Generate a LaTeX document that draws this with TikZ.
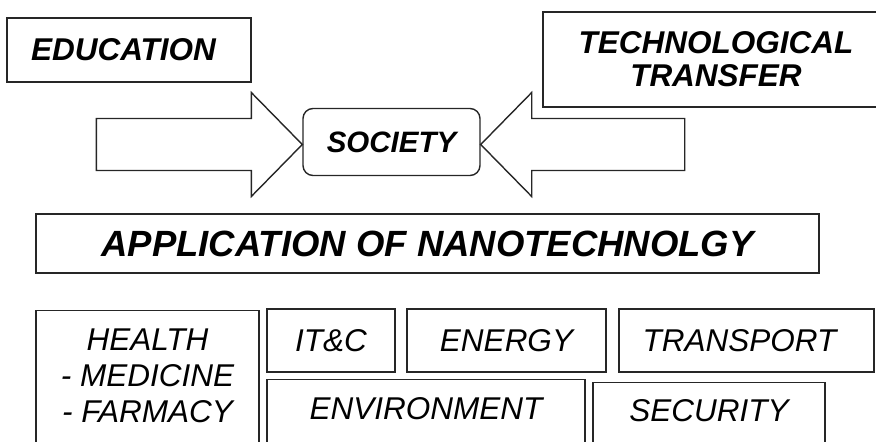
\documentclass[tikz,border=0pt]{standalone}
\usepackage{fontspec}
\setmainfont{Liberation Sans}
\begin{document}
\begin{tikzpicture}[x=1pt,y=-1pt,line width=1.4pt,
  box/.style={draw=black!85,inner sep=0pt,align=center},
  topbox/.style={box,font=\fontsize{31.5}{33}\selectfont\bfseries\itshape},
  cell/.style={box,font=\fontsize{31.5}{36}\selectfont\itshape},
  blockarrow/.style={draw=black!85,line join=miter}]
\useasboundingbox (0,0) rectangle (876,442);
\clip (0,0) rectangle (876,442);
\node[topbox,minimum width=244pt,minimum height=64pt] (education) at (129,50) {EDUCATION\hspace*{11pt}};
\node[topbox,minimum width=346pt,minimum height=95pt] (transfer) at (716,59.5) {TECHNOLOGICAL\\TRANSFER};
\node[topbox,rounded corners=10pt,minimum width=177pt,minimum height=67pt,
  font=\fontsize{29.5}{33}\selectfont\bfseries\itshape] (society) at (391.5,142) {SOCIETY};
\draw[blockarrow] ([yshift=-2.5pt]society.west) -- ++(-51,-52) -- ++(0,26) -- ++(-155,0)
  -- ++(0,52) -- ++(155,0) -- ++(0,26) -- cycle;
\draw[blockarrow] ([yshift=-2.5pt]society.east) -- ++(51,-52) -- ++(0,26) -- ++(153,0)
  -- ++(0,52) -- ++(-153,0) -- ++(0,26) -- cycle;
\node[topbox,minimum width=783pt,minimum height=59pt,
  font=\fontsize{36.5}{40}\selectfont\bfseries\itshape] (application) at (427.5,243.5) {APPLICATION OF NANOTECHNOLGY};
\node[cell,anchor=north,minimum width=223pt,inner ysep=18pt,text depth=70pt] (health) at (147.5,310) {HEALTH\\- MEDICINE\\- FARMACY};
\node[cell,minimum width=128pt,minimum height=63pt] (itc) at (331,340.5) {IT\&C};
\node[cell,minimum width=199pt,minimum height=63pt] (energy) at (506.5,340.5) {ENERGY};
\node[cell,minimum width=255pt,minimum height=63pt] (transport) at (746.5,340.5) {TRANSPORT\hspace*{14pt}};
\node[cell,anchor=north,minimum width=318pt,inner ysep=17.5pt,text depth=60pt] (environment) at (426,379) {ENVIRONMENT};
\node[cell,anchor=north,minimum width=232pt,inner ysep=16.5pt,text depth=60pt] (security) at (709,382) {SECURITY};
\end{tikzpicture}
\end{document}
